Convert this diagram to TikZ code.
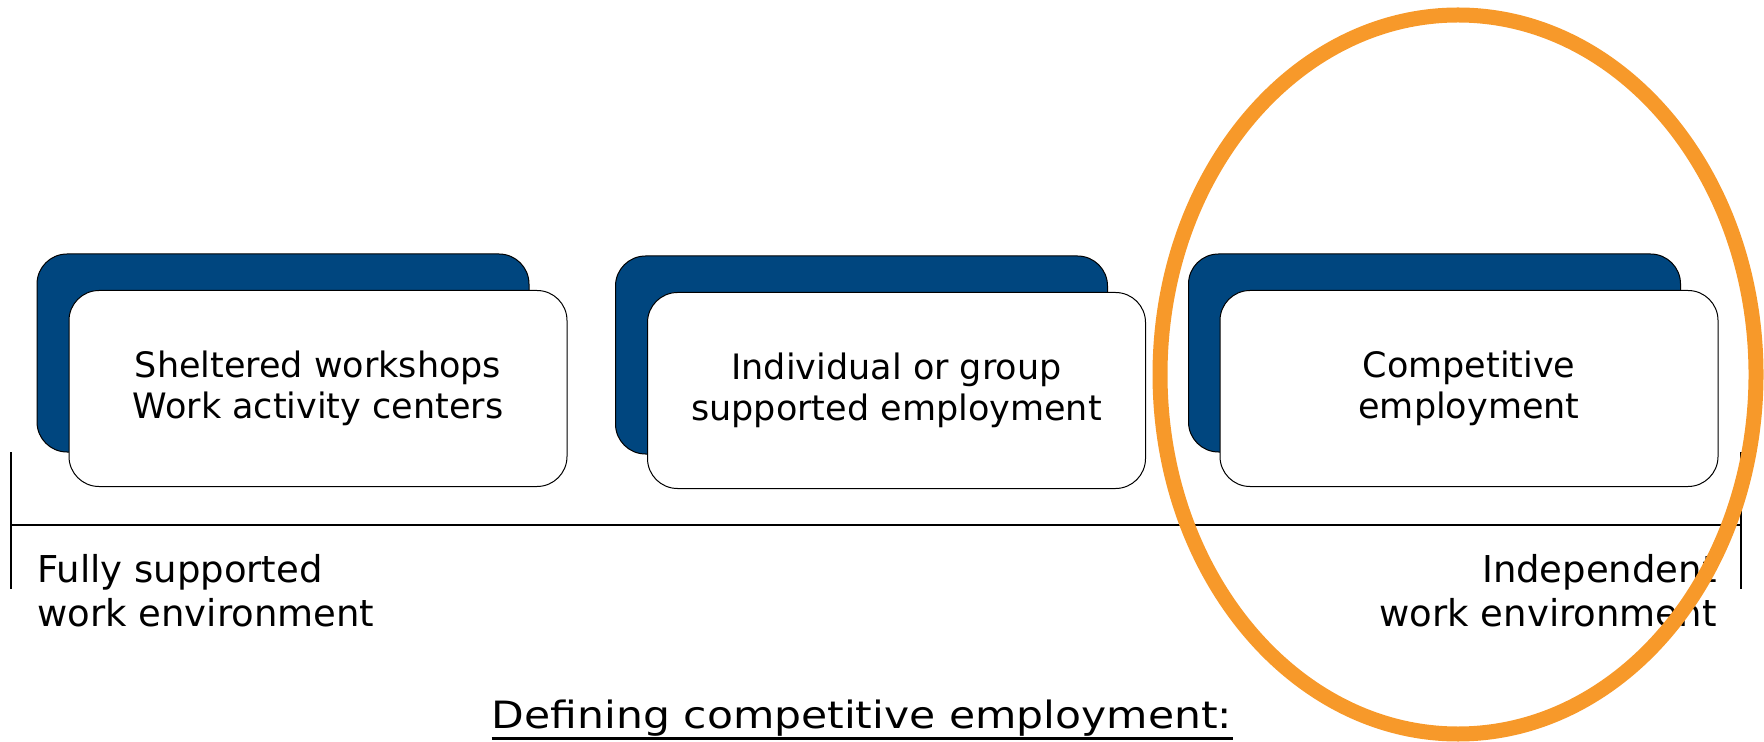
\documentclass[tikz,border=0pt]{standalone}
\usepackage{tikz}
\usepackage{xcolor}
\usepackage{fontspec}
\setmainfont{DejaVu Sans}
\newfontfamily\titlefont[FakeStretch = 1.13]{DejaVu Sans}
\definecolor{customblue}{HTML}{00467F}
\definecolor{customorange}{HTML}{F7992A}
\tikzset{
    backbox/.style = {fill = customblue, draw, line width = 0.5pt, rectangle, rounded corners = 15pt, minimum width = 246pt, minimum height = 99pt, inner sep = 0pt},
    frontbox/.style = {fill = white, draw, line width = 0.5pt, rectangle, rounded corners = 15pt, minimum width = 249pt, minimum height = 98pt, inner sep = 0pt, align = center, font = \fontsize{17.5pt}{20.5pt}\selectfont},
    endlabel/.style = {inner sep = 0pt, font = \fontsize{18.5pt}{22pt}\selectfont}
}

\begin{document}
\begin{tikzpicture}
        \useasboundingbox (0pt, 0pt) rectangle (882pt, -371pt);

        % Back boxes
        \node [backbox] (back1) at (141.5pt, -176.5pt) {};
        \node [backbox] (back2) at (430.75pt, -177.5pt) {};
        \node [backbox] (back3) at (717.25pt, -176.5pt) {};

        % Front boxes
        \node [frontbox] (front1) at (159pt, -194.25pt) {Sheltered workshops\\Work activity centers};
        \node [frontbox] (front2) at (448.25pt, -195.25pt) {Individual or group\\supported employment};
        \node [frontbox] (front3) at (734.5pt, -194.25pt) {Competitive\\employment};

        % Axis
        \coordinate (axisleft) at (5.5pt, -262.5pt);
        \coordinate (axisright) at (870.5pt, -262.5pt);
        \coordinate (lefttop) at (5.5pt, -226pt);
        \coordinate (leftbottom) at (5.5pt, -294.5pt);
        \coordinate (righttop) at (870.5pt, -226pt);
        \coordinate (rightbottom) at (870.5pt, -294.5pt);
        \draw [line width = 0.9pt] (axisleft) -- (axisright);
        \draw [line width = 0.6pt] (lefttop) -- (leftbottom);
        \draw [line width = 0.6pt] (righttop) -- (rightbottom);

        % Axis ends
        \node [endlabel, anchor = north west, align = left] (fully) at (18.5pt, -277pt) {Fully supported\\work environment};
        \node [endlabel, anchor = north east, align = right] (indep) at (858.5pt, -277pt) {Independent\\work environment};

        % Title
        \node [anchor = base, inner sep = 0pt, font = \titlefont\fontsize{18.8pt}{22pt}\selectfont] (title) at (431pt, -364pt) {Defining competitive employment:};
        \draw [line width = 1.3pt] ([yshift = -1.2pt]title.south west) -- ([yshift = -1.2pt]title.south east);

        % Ring round the last box
        \draw [customorange, line width = 7.5pt] (729pt, -187.25pt) ellipse [x radius = 149pt, y radius = 179.75pt];

    \end{tikzpicture}
\end{document}
